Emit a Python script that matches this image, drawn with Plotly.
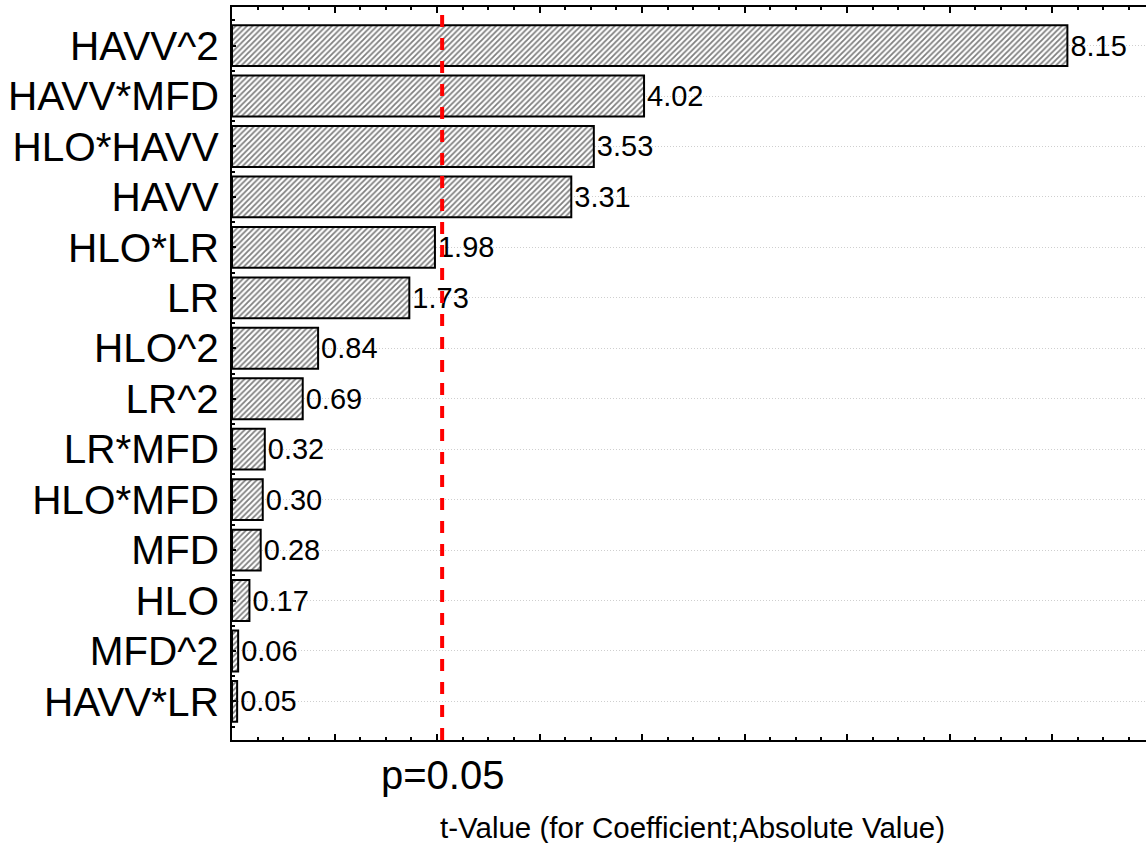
import plotly.graph_objects as go

# ---- data ----
terms = ["HAVV^2", "HAVV*MFD", "HLO*HAVV", "HAVV", "HLO*LR", "LR", "HLO^2",
         "LR^2", "LR*MFD", "HLO*MFD", "MFD", "HLO", "MFD^2", "HAVV*LR"]
t_values = [8.15, 4.02, 3.53, 3.31, 1.98, 1.73, 0.84, 0.69, 0.32, 0.30,
            0.28, 0.17, 0.06, 0.05]
t_critical = 2.05
p_label = "p=0.05"
x_title = "t-Value (for Coefficient;Absolute Value)"

FONT = "Liberation Sans, Arial, sans-serif"
W, H = 1146, 843
L, R, T, B = 232, 0, 7, 103

positions = list(range(len(terms)))

fig = go.Figure()
fig.add_trace(go.Bar(
    x=t_values,
    y=positions,
    orientation="h",
    width=0.81,
    marker=dict(
        color="white",
        line=dict(color="black", width=2),
        pattern=dict(shape="/", fgcolor="black", bgcolor="white", size=4, solidity=0.45),
    ),
    text=[f"{v:.2f}" for v in t_values],
    textposition="outside",
    textfont=dict(family=FONT, size=29, color="black"),
    constraintext="none",
    cliponaxis=False,
    hoverinfo="skip",
))

fig.add_shape(
    type="line", xref="x", yref="paper",
    x0=t_critical, x1=t_critical, y0=0, y1=1,
    line=dict(color="#ff0000", width=4, dash="12px,11px"),
    layer="above",
)

fig.add_annotation(
    x=t_critical, xref="x", y=-0.048, yref="paper",
    text=p_label, showarrow=False,
    font=dict(family=FONT, size=40, color="black"),
    xanchor="center", yanchor="middle",
)
fig.add_annotation(
    x=(692.5 - L) / (W - L - R), xref="paper", y=-0.12, yref="paper",
    text=x_title, showarrow=False,
    font=dict(family=FONT, size=29.5, color="black"),
    xanchor="center", yanchor="middle",
)

n = len(terms)
fig.update_layout(
    width=W, height=H,
    margin=dict(l=L, r=R, t=T, b=B, pad=0),
    paper_bgcolor="white", plot_bgcolor="white",
    showlegend=False,
    bargap=0.19,
    xaxis=dict(
        range=[0, 8.917],
        showticklabels=False,
        showgrid=False, zeroline=False,
        showline=True, linecolor="black", linewidth=2,
        mirror="ticks",
        ticks="inside", ticklen=6, tickwidth=2, tickcolor="black",
        dtick=1, tick0=0,
        minor=dict(ticks="inside", ticklen=3, tickwidth=1.5, tickcolor="black", dtick=0.25, showgrid=False),
    ),
    yaxis=dict(
        range=[n - 1 + 0.765, -0.765],
        tickmode="array", tickvals=positions, ticktext=terms,
        tickfont=dict(family=FONT, size=40.5, color="black"),
        showgrid=True, gridcolor="#cfcfcf", gridwidth=1, griddash="1px,2px",
        zeroline=False,
        showline=True, linecolor="black", linewidth=2,
        ticks="inside", ticklen=4, tickwidth=1.5, tickcolor="black",
        ticklabelstandoff=3,
        minor=dict(ticks="inside", ticklen=3, tickwidth=1.5, tickcolor="black",
                   tickmode="linear", tick0=0.5, dtick=1, showgrid=False),
    ),
)

fig.write_html("out.html")
